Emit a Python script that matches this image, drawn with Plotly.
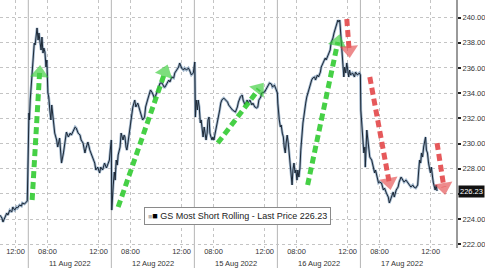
import plotly.graph_objects as go

# ---------------- data ----------------
days = ["2022-08-10", "2022-08-11", "2022-08-12", "2022-08-15", "2022-08-16", "2022-08-17"]
SESSION_OPEN = 6.5   # 06:30 local
SESSION_LEN = 6.5    # hours per session

t_aug10 = ["10:47", "10:56", "11:01", "11:10", "11:19", "11:24", "11:33", "11:42", "11:47", "11:56",
           "12:05", "12:09", "12:19", "12:28", "12:32", "12:42", "12:51", "12:55"]
v_aug10 = [224.32, 224.09, 223.77, 224.17, 224.48, 224.32, 224.72, 224.56, 224.96, 224.72,
           224.96, 224.88, 225.12, 225.04, 225.28, 225.20, 225.36, 225.44]

t_aug11 = ["06:30", "06:33", "06:35", "06:39", "06:44", "06:48", "06:53", "06:58", "07:02", "07:07",
           "07:11", "07:16", "07:20", "07:25", "07:30", "07:34", "07:39", "07:43", "07:48", "07:53",
           "07:57", "08:02", "08:06", "08:11", "08:16", "08:20", "08:25", "08:34", "08:43", "08:48",
           "08:57", "09:01", "09:06", "09:15", "09:24", "09:29", "09:38", "09:47", "09:52", "10:01",
           "10:10", "10:15", "10:24", "10:33", "10:38", "10:47", "10:56", "11:01", "11:10", "11:19",
           "11:33", "11:42", "11:47", "11:56", "12:05", "12:10", "12:19", "12:28", "12:37", "12:42",
           "12:51", "12:55"]
v_aug11 = [229.64, 232.42, 231.87, 233.45, 234.48, 235.44, 236.63, 237.98, 237.82, 238.77,
           239.17, 238.21, 238.77, 238.05, 237.42, 238.45, 237.18, 237.58, 237.26, 236.07,
           236.63, 234.01, 233.69, 232.66, 231.87, 233.06, 232.42, 230.83, 230.28, 229.72,
           230.44, 229.48, 228.45, 229.25, 230.28, 230.91, 230.52, 230.83, 230.67, 231.07,
           231.31, 231.23, 230.83, 230.67, 230.28, 230.04, 229.25, 229.64, 230.12, 229.48,
           228.93, 228.45, 227.90, 228.13, 227.66, 228.13, 227.90, 228.45, 228.06, 228.29,
           228.69, 229.48]

t_aug12 = ["06:30", "06:32", "06:35", "06:39", "06:44", "06:48", "06:53", "06:58", "07:02", "07:11",
           "07:16", "07:20", "07:25", "07:30", "07:34", "07:39", "07:43", "07:48", "07:57", "08:02",
           "08:11", "08:20", "08:25", "08:34", "08:43", "08:48", "08:57", "09:06", "09:11", "09:20",
           "09:29", "09:34", "09:43", "09:52", "09:56", "10:06", "10:15", "10:19", "10:28", "10:38",
           "10:42", "10:51", "11:00", "11:05", "11:14", "11:23", "11:28", "11:37", "11:46", "11:51",
           "12:00", "12:09", "12:14", "12:23", "12:32", "12:37", "12:46", "12:55", "13:00"]
v_aug12 = [230.28, 224.72, 225.91, 226.71, 227.74, 227.10, 228.69, 228.29, 229.09, 229.72,
           230.83, 230.44, 230.28, 230.67, 230.52, 229.72, 229.48, 230.04, 231.31, 231.87,
           232.90, 233.45, 232.90, 233.21, 232.66, 232.42, 231.87, 232.10, 232.90, 233.45,
           234.09, 234.25, 234.01, 233.61, 233.69, 234.25, 234.64, 234.80, 234.80, 234.48,
           234.48, 234.80, 235.04, 234.88, 235.28, 235.20, 235.60, 235.83, 236.07, 236.39,
           235.99, 235.83, 235.99, 235.83, 235.99, 235.83, 235.44, 235.60, 236.39]

t_aug15 = ["06:32", "06:35", "06:39", "06:44", "06:48", "06:53", "06:58", "07:02", "07:07", "07:11",
           "07:16", "07:21", "07:25", "07:30", "07:34", "07:39", "07:43", "07:48", "07:53", "07:57",
           "08:02", "08:06", "08:11", "08:20", "08:29", "08:34", "08:39", "08:48", "08:57", "09:06",
           "09:11", "09:20", "09:29", "09:43", "09:52", "09:57", "10:06", "10:15", "10:19", "10:28",
           "10:38", "10:42", "10:51", "11:00", "11:05", "11:14", "11:23", "11:28", "11:33", "11:42",
           "11:46", "12:00", "12:09", "12:14", "12:23", "12:32", "12:37", "12:46", "12:51", "13:00"]
v_aug15 = [236.47, 232.10, 233.45, 232.66, 233.45, 232.90, 231.63, 231.87, 231.07, 230.52,
           231.31, 230.67, 230.28, 230.83, 231.87, 232.10, 230.83, 230.52, 230.28, 230.52,
           230.28, 230.67, 231.07, 231.87, 232.66, 233.21, 233.45, 233.61, 233.45, 233.29,
           233.06, 232.90, 232.66, 232.50, 232.90, 233.29, 233.69, 233.85, 233.45, 233.06,
           233.45, 233.21, 233.45, 233.06, 233.21, 232.90, 232.82, 232.90, 233.45, 233.69,
           234.01, 234.09, 234.40, 234.56, 234.80, 234.72, 234.48, 234.64, 234.40, 234.01]

t_aug16 = ["06:32", "06:35", "06:39", "06:44", "06:48", "06:53", "06:58", "07:02", "07:07", "07:11",
           "07:16", "07:21", "07:25", "07:30", "07:34", "07:39", "07:43", "07:48", "07:53", "07:57",
           "08:02", "08:06", "08:11", "08:16", "08:20", "08:25", "08:30", "08:34", "08:39", "08:43",
           "08:48", "08:57", "09:02", "09:06", "09:11", "09:16", "09:25", "09:29", "09:38", "09:43",
           "09:52", "09:56", "10:06", "10:10", "10:15", "10:19", "10:28", "10:38", "10:42", "10:51",
           "10:56", "11:05", "11:10", "11:14", "11:19", "11:23", "11:28", "11:33", "11:37", "11:42",
           "11:46", "11:51", "11:56", "12:00", "12:05", "12:09", "12:14", "12:23", "12:32", "12:37",
           "12:46", "12:55", "13:00"]
v_aug16 = [233.21, 232.42, 231.87, 231.31, 231.47, 230.83, 230.52, 229.72, 229.25, 230.04,
           230.67, 230.04, 229.25, 228.06, 227.10, 226.71, 227.90, 228.45, 227.66, 227.90,
           227.10, 227.90, 227.34, 228.06, 229.48, 230.83, 231.63, 232.10, 232.90, 233.21,
           233.69, 234.25, 234.56, 234.80, 235.04, 235.20, 235.28, 235.04, 235.44, 235.28,
           235.67, 236.07, 236.47, 236.63, 236.79, 236.63, 237.02, 237.42, 237.98, 238.37,
           238.77, 239.17, 239.56, 239.80, 239.64, 239.80, 238.77, 237.42, 236.63, 235.28,
           236.07, 235.60, 236.39, 235.60, 235.28, 235.83, 235.44, 235.60, 235.28, 235.67,
           235.44, 235.60, 235.44]

t_aug17 = ["06:32", "06:37", "06:41", "06:46", "06:51", "06:53", "06:55", "07:00", "07:04", "07:09",
           "07:14", "07:23", "07:32", "07:37", "07:41", "07:50", "07:55", "08:00", "08:09", "08:18",
           "08:23", "08:32", "08:41", "08:46", "08:55", "09:04", "09:09", "09:18", "09:27", "09:32",
           "09:41", "09:50", "09:55", "10:04", "10:13", "10:18", "10:27", "10:36", "10:41", "10:50",
           "10:59", "11:04", "11:08", "11:13", "11:17", "11:22", "11:27", "11:36", "11:40", "11:45",
           "11:50", "11:59", "12:03", "12:12", "12:17", "12:21", "12:26", "12:30"]
v_aug17 = [232.66, 231.63, 230.28, 229.25, 229.72, 228.13, 228.93, 231.07, 230.28, 229.48,
           228.93, 228.69, 228.13, 227.66, 227.90, 227.34, 226.87, 226.94, 226.87, 226.31,
           226.47, 226.07, 225.75, 225.28, 225.75, 226.15, 225.75, 226.31, 226.55, 226.94,
           227.34, 227.10, 226.94, 227.10, 226.87, 226.71, 226.55, 226.71, 226.55, 226.47,
           226.71, 227.90, 228.69, 228.45, 229.25, 228.93, 229.72, 230.52, 229.48, 229.25,
           228.45, 227.66, 228.13, 226.94, 226.55, 226.31, 226.71, 226.23]

last_price = 226.23
series_name = "GS Most Short Rolling - Last Price 226.23"

# x tick labels (day, time)
tick_days = ["2022-08-10", "2022-08-11", "2022-08-11", "2022-08-12", "2022-08-12", "2022-08-15",
             "2022-08-15", "2022-08-16", "2022-08-16", "2022-08-17", "2022-08-17"]
tick_times = ["12:00", "08:00", "12:00", "08:00", "12:00", "08:00",
              "12:00", "08:00", "12:00", "08:00", "12:00"]
date_labels = ["11 Aug 2022", "12 Aug 2022", "15 Aug 2022", "16 Aug 2022", "17 Aug 2022"]

y_ticks = [222, 224, 226, 228, 230, 232, 234, 236, 238, 240]

# annotation arrows: (tail day, tail time, tail value, head day, head time, head value)
green_arrows = [
    ("2022-08-11", "06:48", 225.52, "2022-08-11", "07:23", 235.60),
    ("2022-08-12", "07:02", 224.96, "2022-08-12", "10:42", 235.67),
    ("2022-08-15", "08:20", 230.04, "2022-08-15", "11:33", 234.33),
    ("2022-08-16", "08:52", 226.71, "2022-08-16", "11:14", 238.06),
]
red_arrows = [
    ("2022-08-16", "11:56", 239.88, "2022-08-16", "12:07", 237.42),
    ("2022-08-17", "07:14", 235.28, "2022-08-17", "08:45", 226.94),
    ("2022-08-17", "12:30", 230.04, "2022-08-17", "13:02", 226.55),
]


def sx(day, hhmm):
    """Position on a trading-session time scale (overnight/weekend gaps removed)."""
    k = days.index(day)
    h, m = map(int, hhmm.split(":"))
    return k * SESSION_LEN + (h + m / 60.0 - SESSION_OPEN)


xs, ys = [], []
for day, tl, vl in [(days[0], t_aug10, v_aug10), (days[1], t_aug11, v_aug11),
                    (days[2], t_aug12, v_aug12), (days[3], t_aug15, v_aug15),
                    (days[4], t_aug16, v_aug16), (days[5], t_aug17, v_aug17)]:
    xs += [sx(day, t) for t in tl]
    ys += vl

fig = go.Figure()

# price line: soft blue halo + dark core
fig.add_trace(go.Scatter(x=xs, y=ys, mode="lines", hoverinfo="skip", showlegend=False,
                         line=dict(color="rgba(80,120,160,0.55)", width=2.6)))
fig.add_trace(go.Scatter(x=xs, y=ys, mode="lines", name=series_name, showlegend=False,
                         line=dict(color="#1c2836", width=1.0)))


def add_arrow(a, color):
    x0, x1 = sx(a[0], a[1]), sx(a[3], a[4])
    fig.add_trace(go.Scatter(
        x=[x0, x1], y=[a[2], a[5]], mode="lines+markers", hoverinfo="skip", showlegend=False,
        cliponaxis=False, opacity=0.9,
        line=dict(color=color, width=5, dash="7px,4px"),
        marker=dict(symbol="triangle-up", size=[0, 16], color=color, angleref="previous",
                    line=dict(width=0))))


for a in green_arrows:
    add_arrow(a, "#33cc33")
for a in red_arrows:
    add_arrow(a, "#e4484a")

x_lo = sx(days[0], "10:47")
x_hi = sx(days[5], "13:59")

# day separators
for k in range(1, len(days)):
    xb = sx(days[k], "06:30")
    fig.add_shape(type="line", xref="x", yref="paper", x0=xb, x1=xb, y0=-0.085, y1=1,
                  line=dict(color="#b5b5b5", width=1), layer="below")

# date labels
for k, lab in enumerate(date_labels, start=1):
    fig.add_annotation(x=sx(days[k], "09:45"), xref="x", y=-0.063, yref="paper",
                       text=lab, showarrow=False, yanchor="middle",
                       font=dict(size=7.5, color="#333"))

# last price tag (replaces the 226 axis label)
fig.add_annotation(x=1, xref="paper", xanchor="left", xshift=2, y=last_price, yref="y",
                   text=f"{last_price:.2f}", showarrow=False, bgcolor="#111",
                   font=dict(size=7.5, color="white"), borderpad=1)

# legend box
fig.add_annotation(x=147 / 467, xref="paper", xanchor="left", y=0.13, yref="paper",
                   yanchor="middle", showarrow=False, align="left",
                   text="<span style='color:#b8b8b8;font-size:7px'>■</span><span style='color:#000'>■</span> " + series_name,
                   bgcolor="white", bordercolor="#8a8a8a", borderwidth=1, borderpad=3,
                   font=dict(size=9, color="#222"))

fig.update_layout(
    width=485, height=268, margin=dict(l=0, r=18, t=0, b=20),
    paper_bgcolor="white", plot_bgcolor="white", showlegend=False,
    font=dict(family="Liberation Sans, Arial, sans-serif", size=7.5, color="#333"),
)
fig.update_xaxes(range=[x_lo, x_hi], tickmode="array",
                 tickvals=[sx(d, t) for d, t in zip(tick_days, tick_times)],
                 ticktext=tick_times, showgrid=True, gridcolor="#c4c4c4", griddash="dot",
                 gridwidth=1, zeroline=False, showline=False, ticks="", ticklabelstandoff=-3,
                 tickfont=dict(size=7.5, color="#333"))
fig.update_yaxes(side="right", range=[221.71, 241.39], tickmode="array", tickvals=y_ticks,
                 ticktext=["" if v == 226 else f"{v:.2f}" for v in y_ticks], showgrid=True,
                 gridcolor="#c4c4c4", griddash="dot", gridwidth=1, zeroline=False, showline=True,
                 linecolor="#9a9a9a", linewidth=2, ticks="outside", ticklen=3, tickwidth=2,
                 tickcolor="#222", tickfont=dict(size=7.5, color="#333"))

fig.write_html("out.html")
